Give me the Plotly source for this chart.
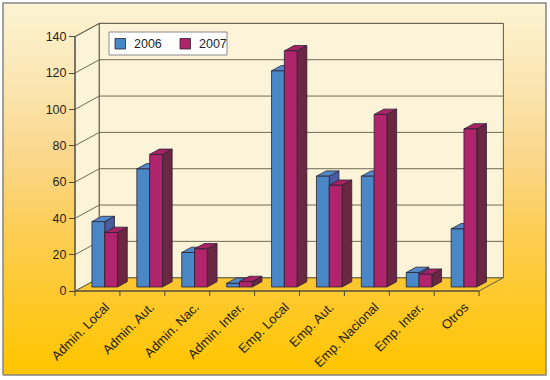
import plotly.graph_objects as go

# ---------------- data ----------------
categories = ["Admin. Local", "Admin. Aut.", "Admin. Nac.", "Admin. Inter.", "Emp. Local",
              "Emp. Aut.", "Emp. Nacional", "Emp. Inter.", "Otros"]
values_2006 = [36, 65, 19, 2, 119, 61, 61, 8, 32]
values_2007 = [30, 73, 21, 3, 130, 56, 95, 7, 87]
series_names = ["2006", "2007"]
y_ticks = [0, 20, 40, 60, 80, 100, 120, 140]

# ---------------- geometry (styling) ----------------
W, H = 550, 380
X0_PX, CAT_PX = 75.0, 44.9          # pixel of x=0, pixels per category
Y0_PX, VAL_PX = 291.0, 1.8164       # pixel of y=0, pixels per value unit
DEPTH_PX = (24.3, -13.3)            # 3D depth vector in pixels
DX = DEPTH_PX[0] / CAT_PX
DY = -DEPTH_PX[1] / VAL_PX
YMAX = 140
N = len(categories)
GROUP_W = 0.57
BAR_W = GROUP_W / 2
F0, F1 = 0.30, 0.70                 # bar depth range (fraction of full depth)

def px_to_x(px):
    return (px - X0_PX) / CAT_PX

def px_to_y(py):
    return (Y0_PX - py) / VAL_PX

FONT = "Arial, Liberation Sans, sans-serif"

fig = go.Figure()

def poly(xs, ys, fill, line_color, lw=1.0, fillgradient=None):
    kw = dict(x=xs, y=ys, mode="lines", fill="toself",
              line=dict(color=line_color, width=lw), hoverinfo="skip", showlegend=False)
    if fillgradient is not None:
        kw["fillgradient"] = fillgradient
    else:
        kw["fillcolor"] = fill
    fig.add_trace(go.Scatter(**kw))

# background gradient panel with border
bx0, bx1 = px_to_x(3), px_to_x(546)
by0, by1 = px_to_y(375), px_to_y(3)
poly([bx0, bx1, bx1, bx0, bx0], [by0, by0, by1, by1, by0], None, "#858585", 1.5,
     fillgradient=dict(type="vertical", colorscale=[
         [0.0, "#FFC500"], [0.05, "#FFC608"], [0.2, "#FEC92A"], [0.39, "#FCCE55"],
         [0.58, "#FAD68A"], [0.79, "#FBE6B2"], [1.0, "#FCF4D4"]]))

# floor
poly([0, N, N + DX, DX, 0], [0, 0, DY, DY, 0], "#FCC72E", "#5E5A4A", 1)
# side wall
poly([0, DX, DX, 0, 0], [0, DY, YMAX + DY, YMAX, 0], "#FCF4D8", "#5E5A4A", 1)
# back wall
poly([DX, N + DX, N + DX, DX, DX], [DY, DY, YMAX + DY, YMAX + DY, DY], "#FCF4D8", "#5E5A4A", 1)

# gridlines on walls
gx, gy = [], []
for v in y_ticks[1:]:
    gx += [0, DX, N + DX, None]
    gy += [v, v + DY, v + DY, None]
fig.add_trace(go.Scatter(x=gx, y=gy, mode="lines", line=dict(color="#6E6A58", width=1),
                         hoverinfo="skip", showlegend=False))

# front axis lines + category tick marks
tick_len = 5 / VAL_PX
ax_x = [0, N, None, 0, 0, None]
ax_y = [0, 0, None, 0, YMAX, None]
for i in range(N + 1):
    ax_x += [i, i, None]
    ax_y += [0, -tick_len, None]
fig.add_trace(go.Scatter(x=ax_x, y=ax_y, mode="lines", line=dict(color="#4A4638", width=1),
                         hoverinfo="skip", showlegend=False))

# ---------------- 3D bars ----------------
colors = {
    "2006": dict(front="#4A87C6", top="#5189CA", side="#4A5C9E"),
    "2007": dict(front="#B0246C", top="#A62364", side="#6B2642"),
}
outline = "#2B2233"
series_vals = {"2006": values_2006, "2007": values_2007}

def bar_faces(si, vals):
    fx, fy, tx, ty, sx, sy = [], [], [], [], [], []
    ox0, oy0 = F0 * DX, F0 * DY
    bdx, bdy = (F1 - F0) * DX, (F1 - F0) * DY
    for i, v in enumerate(vals):
        xl = i + (1 - GROUP_W) / 2 + si * BAR_W + ox0
        xr = xl + BAR_W
        yb = oy0
        yt = oy0 + v
        fx += [xl, xr, xr, xl, xl, None]
        fy += [yb, yb, yt, yt, yb, None]
        tx += [xl, xr, xr + bdx, xl + bdx, xl, None]
        ty += [yt, yt, yt + bdy, yt + bdy, yt, None]
        sx += [xr, xr + bdx, xr + bdx, xr, xr, None]
        sy += [yb, yb + bdy, yt + bdy, yt, yb, None]
    return (fx, fy), (tx, ty), (sx, sy)

faces = {s: bar_faces(k, series_vals[s]) for k, s in enumerate(series_names)}
for face_idx, key in [(2, "side"), (1, "top"), (0, "front")]:
    for s in series_names:
        xs, ys = faces[s][face_idx]
        fig.add_trace(go.Scatter(x=xs, y=ys, mode="lines", fill="toself",
                                 fillcolor=colors[s][key],
                                 line=dict(color=outline, width=0.8),
                                 name=s, hoverinfo="skip", showlegend=False))

# ---------------- legend (drawn as box + swatches + text) ----------------
def pxx(px):
    return px / W

def pxy(py):
    return 1 - py / H

shapes = [dict(type="rect", xref="paper", yref="paper",
               x0=pxx(109), x1=pxx(227), y0=pxy(55), y1=pxy(32),
               fillcolor="#FFFFFF", line=dict(color="#8A8A8A", width=1))]
annotations = []
legend_x = [115, 180]
for s, lx in zip(series_names, legend_x):
    shapes.append(dict(type="rect", xref="paper", yref="paper",
                       x0=pxx(lx), x1=pxx(lx + 10.5), y0=pxy(49), y1=pxy(38.5),
                       fillcolor=colors[s]["front"], line=dict(color=outline, width=0.8)))
    annotations.append(dict(xref="paper", yref="paper", x=pxx(lx + 16.5), y=pxy(44),
                            xanchor="left", yanchor="middle", text=s, showarrow=False,
                            font=dict(size=12.5, color="#1E1E1E")))

fig.update_layout(
    width=W, height=H,
    margin=dict(l=0, r=0, t=0, b=0),
    paper_bgcolor="white", plot_bgcolor="rgba(0,0,0,0)",
    font=dict(family=FONT, size=12, color="#1E1E1E"),
    xaxis=dict(range=[px_to_x(0), px_to_x(W)], domain=[0, 1],
               anchor="free", position=(H - Y0_PX) / H,
               tickmode="array", tickvals=[i + 0.68 for i in range(N)], ticktext=categories,
               tickangle=-45, ticks="", showgrid=False, zeroline=False, showline=False,
               ticklabelstandoff=5, tickfont=dict(size=13)),
    yaxis=dict(range=[px_to_y(H), px_to_y(0)], domain=[0, 1],
               anchor="free", position=X0_PX / W,
               tickmode="array", tickvals=y_ticks, ticks="outside", ticklen=6,
               tickcolor="#4A4638", showgrid=False, zeroline=False, showline=False,
               tickfont=dict(size=12.5)),
    shapes=shapes,
    annotations=annotations,
    showlegend=False,
)

fig.write_html("out.html", config={"displayModeBar": False},
               post_script="document.body.style.margin='0';")
